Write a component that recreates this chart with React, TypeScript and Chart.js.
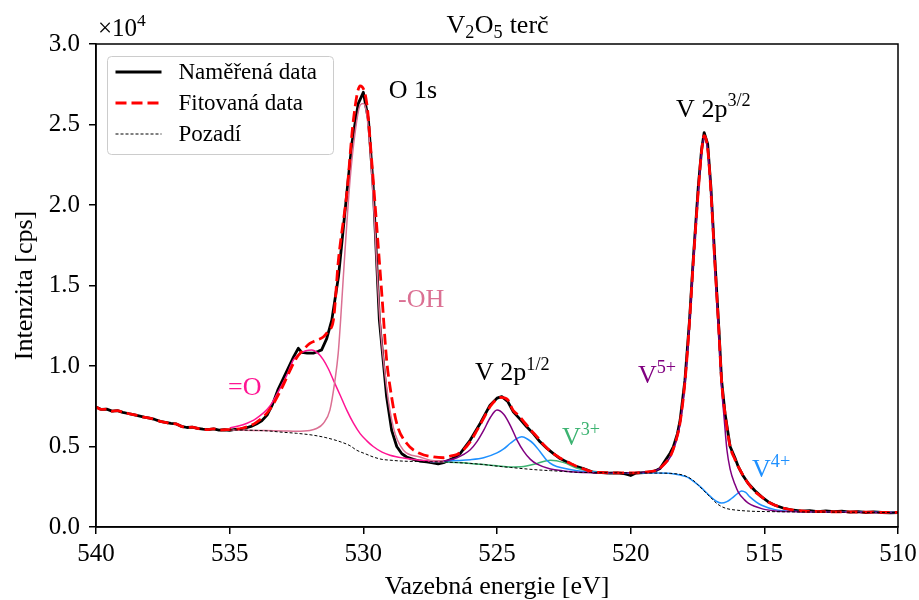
import React, { useEffect, useRef } from 'react';
import { Chart, registerables } from 'chart.js';
Chart.register(...registerables);

const FONT = '"Liberation Serif", "DejaVu Serif", serif';

// ---------- data (binding energy in eV, intensity in cps) ----------
const measuredEnergy = [540.0, 539.8, 539.6, 539.4, 539.2, 539.0, 538.8, 538.6, 538.4, 538.2, 538.0, 537.8, 537.6, 537.4, 537.2, 537.0, 536.8, 536.6, 536.4, 536.2, 536.0, 535.8, 535.6, 535.4, 535.2, 535.0, 534.8, 534.6, 534.4, 534.2, 534.0, 533.8, 533.6, 533.4, 533.2, 533.0, 532.8, 532.6, 532.43, 532.3, 532.1, 531.87, 531.7, 531.56, 531.37, 531.18, 530.93, 530.68, 530.43, 530.19, 530.0, 529.81, 529.63, 529.4, 529.13, 528.94, 528.75, 528.56, 528.38, 528.13, 527.9, 527.63, 527.4, 527.2, 527.0, 526.8, 526.6, 526.38, 526.0, 525.63, 525.26, 525.0, 524.82, 524.6, 524.39, 524.14, 523.89, 523.64, 523.39, 523.14, 522.89, 522.64, 522.39, 522.1, 521.77, 521.4, 521.1, 520.8, 520.5, 520.2, 520.0, 519.8, 519.5, 519.2, 519.0, 518.9, 518.7, 518.52, 518.4, 518.25, 518.15, 517.97, 517.8, 517.66, 517.47, 517.35, 517.25, 517.12, 517.0, 516.85, 516.7, 516.6, 516.47, 516.28, 516.1, 515.97, 515.8, 515.6, 515.35, 515.1, 514.85, 514.6, 514.3, 513.9, 513.6, 513.3, 513.0, 512.7, 512.4, 512.1, 511.8, 511.5, 511.2, 510.9, 510.6, 510.3, 510.0];
const measuredCounts = [7450, 7300, 7320, 7200, 7230, 7120, 7050, 6980, 6900, 6820, 6760, 6680, 6560, 6500, 6430, 6400, 6250, 6180, 6200, 6120, 6080, 6050, 6100, 6020, 6040, 6000, 6060, 6080, 6150, 6250, 6400, 6600, 6950, 7600, 8500, 9200, 9900, 10600, 11100, 10850, 10800, 10800, 10900, 11000, 11700, 12850, 15550, 19700, 23800, 26300, 27000, 25300, 21100, 12850, 8100, 6000, 5000, 4550, 4350, 4200, 4100, 4040, 3980, 3920, 4000, 4150, 4300, 4560, 5400, 6430, 7570, 8000, 8100, 7800, 7150, 6700, 6220, 5800, 5290, 4900, 4560, 4250, 4040, 3800, 3630, 3400, 3380, 3350, 3360, 3300, 3200, 3350, 3380, 3420, 3550, 3630, 4150, 4600, 5000, 5800, 6640, 9120, 12800, 16600, 21150, 23400, 24500, 23800, 21150, 16600, 12300, 9120, 7050, 5000, 4300, 3730, 3200, 2700, 2250, 1870, 1560, 1350, 1180, 1040, 980, 1020, 960, 1000, 950, 980, 930, 960, 900, 940, 900, 880, 900];

const fitEnergy = [540.0, 539.8, 539.6, 539.4, 539.2, 539.0, 538.8, 538.6, 538.4, 538.2, 538.0, 537.8, 537.6, 537.4, 537.2, 537.0, 536.8, 536.6, 536.4, 536.2, 536.0, 535.8, 535.6, 535.4, 535.2, 535.0, 534.5, 534.0, 533.5, 533.0, 532.75, 532.5, 532.25, 532.0, 531.75, 531.5, 531.3, 531.12, 530.93, 530.62, 530.37, 530.12, 529.87, 529.69, 529.5, 529.31, 529.13, 529.0, 528.75, 528.38, 527.88, 527.38, 527.0, 526.75, 526.5, 526.25, 526.0, 525.75, 525.5, 525.25, 525.0, 524.85, 524.6, 524.4, 524.2, 524.0, 523.75, 523.5, 523.25, 523.0, 522.75, 522.5, 522.25, 522.0, 521.75, 521.5, 521.0, 520.5, 520.0, 519.5, 519.0, 518.75, 518.5, 518.3, 518.15, 517.97, 517.8, 517.66, 517.47, 517.35, 517.25, 517.12, 517.0, 516.85, 516.7, 516.6, 516.47, 516.28, 516.1, 515.97, 515.6, 515.35, 515.1, 514.85, 514.6, 514.3, 513.9, 513.5, 513.0, 512.0, 511.0, 510.0];
const fitCounts = [7450, 7300, 7320, 7200, 7230, 7120, 7050, 6980, 6900, 6820, 6760, 6680, 6560, 6500, 6430, 6400, 6250, 6180, 6200, 6120, 6080, 6050, 6100, 6020, 6040, 6050, 6150, 6500, 7300, 8800, 9700, 10500, 11000, 11400, 11600, 11800, 12200, 12850, 16600, 20700, 25300, 27400, 26300, 22800, 18700, 14500, 10400, 8700, 6430, 5200, 4560, 4350, 4300, 4400, 4500, 4800, 5300, 6000, 6750, 7500, 7950, 8050, 7900, 7250, 6950, 6550, 6050, 5600, 5100, 4700, 4400, 4150, 3950, 3750, 3600, 3450, 3380, 3360, 3360, 3400, 3550, 3900, 4450, 5400, 6500, 9000, 12700, 16400, 20900, 23300, 24300, 23500, 20900, 16400, 12200, 9100, 7050, 5000, 4200, 3730, 2700, 2200, 1870, 1550, 1350, 1180, 1040, 990, 960, 940, 920, 900];

const backgroundEnergy = [535.0, 534.5, 534.0, 533.5, 533.12, 532.5, 531.87, 531.4, 530.87, 530.5, 530.25, 529.9, 529.63, 529.3, 529.0, 528.5, 528.0, 527.5, 527.0, 526.5, 526.0, 525.5, 525.0, 524.5, 524.0, 523.5, 523.0, 522.5, 522.0, 521.5, 521.0, 520.0, 519.0, 518.5, 518.0, 517.66, 517.5, 517.28, 517.0, 516.78, 516.6, 516.4, 516.0, 515.5, 515.0, 514.0, 512.0, 510.0];
const backgroundCounts = [6030, 6020, 6000, 5960, 5900, 5820, 5700, 5550, 5300, 5050, 4770, 4530, 4350, 4200, 4150, 4090, 4070, 4050, 4040, 4000, 3950, 3880, 3780, 3700, 3620, 3550, 3500, 3450, 3400, 3380, 3370, 3360, 3350, 3330, 3200, 2900, 2650, 2280, 1820, 1460, 1270, 1140, 1040, 980, 960, 940, 920, 900];

// O 1s components
const ohEnergy = [535.0, 534.0, 533.0, 532.5, 532.0, 531.75, 531.5, 531.25, 531.06, 530.94, 530.85, 530.7, 530.5, 530.3, 530.12, 530.0, 529.88, 529.75, 529.6, 529.38, 529.13, 528.88, 528.5, 527.88, 527.5, 527.0];
const ohCounts = [6030, 6000, 5970, 5950, 6000, 6120, 6430, 7260, 9120, 10780, 12850, 16800, 21500, 24600, 26200, 26300, 25700, 23500, 19500, 12850, 8700, 6200, 4770, 4350, 4150, 4100];

const doubleBondOEnergy = [535.0, 534.5, 534.0, 533.5, 533.12, 532.87, 532.62, 532.4, 532.15, 531.93, 531.7, 531.5, 531.3, 531.12, 530.87, 530.62, 530.37, 530.12, 529.87, 529.63, 529.3, 529.0, 528.5, 528.13, 527.5, 527.0];
const doubleBondOCounts = [6150, 6350, 6750, 7500, 8600, 9400, 10370, 10750, 10950, 11000, 10800, 10400, 9800, 9120, 8200, 7260, 6450, 5800, 5350, 5000, 4650, 4460, 4280, 4190, 4100, 4050];

// V 2p components
const v5Energy = [527.5, 527.0, 526.5, 526.0, 525.75, 525.5, 525.25, 525.0, 524.75, 524.5, 524.25, 524.0, 523.75, 523.5, 523.0, 522.5, 522.0, 521.0, 520.0, 519.5, 519.0, 518.75, 518.5, 518.3, 518.15, 517.97, 517.8, 517.66, 517.47, 517.35, 517.25, 517.12, 517.0, 516.85, 516.7, 516.6, 516.5, 516.4, 516.28, 516.1, 515.97, 515.75, 515.6, 515.1, 514.6, 514.0, 512.0, 510.0];
const v5Counts = [4050, 4100, 4300, 4800, 5300, 6000, 6800, 7260, 7000, 6300, 5400, 4700, 4200, 3900, 3600, 3480, 3400, 3370, 3370, 3400, 3550, 3850, 4400, 5300, 6400, 8900, 12600, 16300, 20800, 23200, 24200, 23400, 20800, 16200, 11800, 8700, 6700, 4800, 3600, 2650, 2150, 1700, 1480, 1140, 1000, 960, 920, 900];

const v4Energy = [527.5, 527.0, 526.5, 526.0, 525.5, 525.0, 524.75, 524.5, 524.25, 524.07, 523.85, 523.64, 523.4, 523.14, 522.9, 522.5, 522.0, 521.5, 521.0, 520.0, 519.0, 518.5, 517.9, 517.66, 517.39, 517.0, 516.8, 516.6, 516.4, 516.23, 516.0, 515.85, 515.7, 515.54, 515.3, 515.1, 514.6, 514.0, 512.0, 510.0];
const v4Counts = [4050, 4100, 4130, 4180, 4300, 4600, 4850, 5200, 5500, 5600, 5450, 5180, 4700, 4150, 3850, 3650, 3500, 3420, 3380, 3360, 3360, 3330, 3110, 2850, 2490, 1870, 1600, 1490, 1580, 1770, 2080, 2240, 2150, 1870, 1550, 1350, 1080, 980, 930, 900];

const v3Energy = [527.5, 527.0, 526.5, 526.0, 525.5, 525.0, 524.5, 524.0, 523.5, 523.0, 522.5, 522.0, 521.5, 521.0, 520.5];
const v3Counts = [4050, 4030, 4000, 3950, 3880, 3800, 3730, 3760, 3950, 4150, 4000, 3650, 3450, 3380, 3360];

// annotations: position (energy, counts), text (^ marks a superscript), colour
const annotationEnergy = [529.05, 528.7, 535.06, 525.82, 522.57, 519.73, 518.3, 515.46];
const annotationCounts = [26650, 13660, 8190, 9120, 5080, 8940, 25480, 3090];
const annotationTexts = ['O 1s', '-OH', '=O', 'V 2p^1/2', 'V^3+', 'V^5+', 'V 2p^3/2', 'V^4+'];
const annotationColors = ['#000000', '#db7093', '#ff1493', '#000000', '#3cb371', '#800080', '#000000', '#1e90ff'];

const legendLabels = ['Naměřená data', 'Fitovaná data', 'Pozadí'];
const xTickStep = 5;
const yTickStep = 5000;

type Part = { t: string; sup?: boolean; sub?: boolean };

function parseSup(s: string): Part[] {
  const i = s.indexOf('^');
  if (i < 0) return [{ t: s }];
  return [{ t: s.slice(0, i) }, { t: s.slice(i + 1), sup: true }];
}

function richWidth(ctx: CanvasRenderingContext2D, parts: Part[], size: number) {
  let w = 0;
  for (const p of parts) {
    const s = p.sup || p.sub ? size * 0.7 : size;
    ctx.font = `${s}px ${FONT}`;
    w += ctx.measureText(p.t).width;
  }
  return w;
}

function drawRich(ctx: CanvasRenderingContext2D, x: number, y: number, parts: Part[], size: number, color: string) {
  let cx = x;
  ctx.fillStyle = color;
  ctx.textAlign = 'left';
  ctx.textBaseline = 'alphabetic';
  for (const p of parts) {
    const s = p.sup || p.sub ? size * 0.7 : size;
    ctx.font = `${s}px ${FONT}`;
    const dy = p.sup ? -size * 0.4 : p.sub ? size * 0.2 : 0;
    ctx.fillText(p.t, cx, y + dy);
    cx += ctx.measureText(p.t).width + (p.sup || p.sub ? 0.5 : 0);
  }
}

const pts = (e: number[], c: number[]) => e.map((x, i) => ({ x, y: c[i] }));

const decorPlugin = {
  id: 'decor',
  afterDraw(chart: any) {
    const ctx: CanvasRenderingContext2D = chart.ctx;
    const { left, right, top, bottom } = chart.chartArea;
    const xs = chart.scales.x;
    const ys = chart.scales.y;
    ctx.save();
    // frame
    ctx.strokeStyle = '#000';
    ctx.lineWidth = 1.5;
    ctx.strokeRect(left, top, right - left, bottom - top);

    // title
    const titleParts: Part[] = [{ t: 'V' }, { t: '2', sub: true }, { t: 'O' }, { t: '5', sub: true }, { t: ' terč' }];
    const tw = richWidth(ctx, titleParts, 26);
    drawRich(ctx, (left + right) / 2 - tw / 2, 33, titleParts, 26, '#000');

    // offset text
    drawRich(ctx, left + 2, 36, [{ t: '×10' }, { t: '4', sup: true }], 25, '#000');

    // axis labels
    ctx.fillStyle = '#000';
    ctx.font = `26px ${FONT}`;
    ctx.textAlign = 'center';
    ctx.textBaseline = 'alphabetic';
    ctx.fillText('Vazebná energie [eV]', (left + right) / 2, 594);
    ctx.save();
    ctx.translate(32, (top + bottom) / 2);
    ctx.rotate(-Math.PI / 2);
    ctx.fillText('Intenzita [cps]', 0, 0);
    ctx.restore();

    // annotations
    for (let i = 0; i < annotationTexts.length; i++) {
      const px = xs.getPixelForValue(annotationEnergy[i]);
      const py = ys.getPixelForValue(annotationCounts[i]);
      drawRich(ctx, px, py, parseSup(annotationTexts[i]), 26, annotationColors[i]);
    }

    // legend
    const lx = left + 11.5, ly = top + 12.5, lw = 226, lh = 98;
    ctx.beginPath();
    (ctx as any).roundRect(lx, ly, lw, lh, 4);
    ctx.fillStyle = 'rgba(255,255,255,0.8)';
    ctx.fill();
    ctx.strokeStyle = '#cccccc';
    ctx.lineWidth = 1;
    ctx.stroke();
    const rowY = [ly + 15.5, ly + 46.5, ly + 77.5];
    const styles = [
      { color: '#000', width: 3, dash: [] as number[] },
      { color: '#ff0000', width: 3, dash: [11, 5] },
      { color: '#000', width: 1, dash: [3, 2] },
    ];
    for (let i = 0; i < 3; i++) {
      ctx.beginPath();
      ctx.setLineDash(styles[i].dash);
      ctx.strokeStyle = styles[i].color;
      ctx.lineWidth = styles[i].width;
      ctx.moveTo(lx + 8, rowY[i]);
      ctx.lineTo(lx + 54, rowY[i]);
      ctx.stroke();
      ctx.setLineDash([]);
      ctx.fillStyle = '#000';
      ctx.font = `23px ${FONT}`;
      ctx.textAlign = 'left';
      ctx.textBaseline = 'middle';
      ctx.fillText(legendLabels[i], lx + 71, rowY[i] + 1);
    }
    ctx.restore();
  },
};

export default function App() {
  const ref = useRef<HTMLCanvasElement | null>(null);
  useEffect(() => {
    document.body.style.margin = '0';
    const canvas = ref.current;
    if (!canvas) return;
    const comp = (label: string, e: number[], c: number[], color: string) => ({
      label,
      data: pts(e, c),
      borderColor: color,
      borderWidth: 1.5,
      pointRadius: 0,
      fill: false,
      cubicInterpolationMode: 'monotone' as const,
      order: 2,
    });
    const chart = new Chart(canvas, {
      type: 'line',
      data: {
        datasets: [
          {
            label: legendLabels[0],
            data: pts(measuredEnergy, measuredCounts),
            borderColor: '#000',
            borderWidth: 2.8,
            pointRadius: 0,
            tension: 0,
            borderJoinStyle: 'round',
            order: 3,
          },
          comp('-OH', ohEnergy, ohCounts, '#db7093'),
          comp('=O', doubleBondOEnergy, doubleBondOCounts, '#ff1493'),
          comp('V5+', v5Energy, v5Counts, '#800080'),
          comp('V4+', v4Energy, v4Counts, '#1e90ff'),
          comp('V3+', v3Energy, v3Counts, '#3cb371'),
          {
            label: legendLabels[1],
            data: pts(fitEnergy, fitCounts),
            borderColor: '#ff0000',
            borderWidth: 2.8,
            borderDash: [11, 5],
            pointRadius: 0,
            cubicInterpolationMode: 'monotone',
            order: 1,
          },
          {
            label: legendLabels[2],
            data: pts(backgroundEnergy, backgroundCounts),
            borderColor: '#000',
            borderWidth: 1,
            borderDash: [3, 2],
            pointRadius: 0,
            cubicInterpolationMode: 'monotone',
            order: 0,
          },
        ] as any,
      },
      options: {
        responsive: false,
        animation: false,
        devicePixelRatio: 1,
        layout: { padding: { top: 44, right: 21, bottom: 0, left: 0 } },
        plugins: { legend: { display: false }, title: { display: false }, tooltip: { enabled: false } },
        events: [],
        scales: {
          x: {
            type: 'linear',
            min: 510,
            max: 540,
            reverse: true,
            afterFit: (s: any) => { s.height = 73; s.paddingLeft = 0; s.paddingRight = 0; },
            border: { display: true, color: '#000', width: 1.5 },
            grid: { drawOnChartArea: false, drawTicks: true, tickLength: 7, color: '#000', lineWidth: 1.5 },
            ticks: { stepSize: xTickStep, color: '#000', padding: 5, font: { family: FONT, size: 25 }, maxRotation: 0 },
          },
          y: {
            type: 'linear',
            min: 0,
            max: 30000,
            afterFit: (s: any) => { s.width = 96; s.paddingTop = 0; s.paddingBottom = 0; },
            border: { display: true, color: '#000', width: 1.5 },
            grid: { drawOnChartArea: false, drawTicks: true, tickLength: 7, color: '#000', lineWidth: 1.5 },
            ticks: { stepSize: yTickStep, color: '#000', padding: 9, font: { family: FONT, size: 25 }, callback: (v: any) => (Number(v) / 1e4).toFixed(1) },
          },
        },
      } as any,
      plugins: [decorPlugin],
    });
    return () => chart.destroy();
  }, []);
  return <canvas ref={ref} width={919} height={600} style={{ display: 'block' }} />;
}
